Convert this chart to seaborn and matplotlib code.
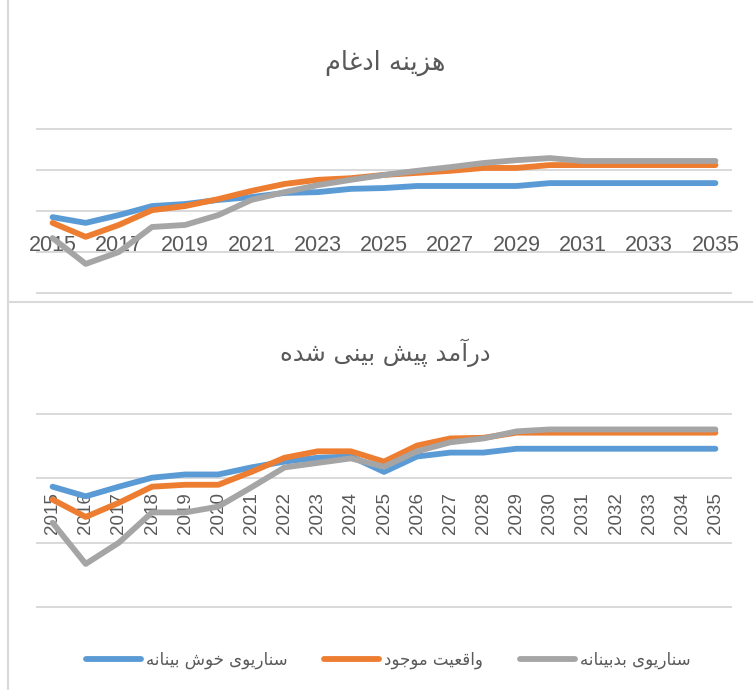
import matplotlib
matplotlib.use("Agg")
import matplotlib.pyplot as plt
import seaborn as sns
import pandas as pd
from matplotlib.lines import Line2D

# ---------------- data ----------------
years = list(range(2015, 2036))
series_names = ["سناریوی خوش بینانه", "واقعیت موجود", "سناریوی بدبینانه"]
title_top = "هزینه ادغام"
title_bottom = "درآمد پیش بینی شده"

cost_optimistic = [0.85, 0.71, 0.90, 1.12, 1.17, 1.27, 1.34, 1.44, 1.46, 1.54, 1.56,
                   1.61, 1.61, 1.61, 1.61, 1.68, 1.68, 1.68, 1.68, 1.68, 1.68]
cost_current = [0.71, 0.37, 0.66, 1.02, 1.12, 1.29, 1.49, 1.66, 1.76, 1.80, 1.88,
                1.93, 1.98, 2.05, 2.05, 2.12, 2.12, 2.12, 2.12, 2.12, 2.12]
cost_pessimistic = [0.34, -0.29, 0.00, 0.61, 0.66, 0.90, 1.27, 1.46, 1.63, 1.76, 1.88,
                    1.98, 2.07, 2.17, 2.24, 2.29, 2.22, 2.22, 2.22, 2.22, 2.22]

rev_optimistic = [0.87, 0.72, 0.87, 1.01, 1.06, 1.06, 1.17, 1.26, 1.32, 1.34, 1.10,
                  1.34, 1.40, 1.40, 1.46, 1.46, 1.46, 1.46, 1.46, 1.46, 1.46]
rev_current = [0.67, 0.40, 0.62, 0.87, 0.90, 0.90, 1.10, 1.32, 1.42, 1.42, 1.26,
               1.51, 1.62, 1.63, 1.71, 1.71, 1.71, 1.71, 1.71, 1.71, 1.71]
rev_pessimistic = [0.31, -0.33, 0.00, 0.47, 0.47, 0.56, 0.86, 1.17, 1.24, 1.31, 1.18,
                   1.42, 1.56, 1.62, 1.73, 1.76, 1.76, 1.76, 1.76, 1.76, 1.76]

colors = ["#5B9BD5", "#ED7D31", "#A5A5A5"]

# ---------- Persian shaping (presentation forms + RTL order) ----------
FORMS = {
    "ا": ("\uFE8D", "\uFE8E", None, None),
    "آ": ("\uFE81", "\uFE82", None, None),
    "ب": ("\uFE8F", "\uFE90", "\uFE91", "\uFE92"),
    "پ": ("\uFB56", "\uFB57", "\uFB58", "\uFB59"),
    "ت": ("\uFE95", "\uFE96", "\uFE97", "\uFE98"),
    "ج": ("\uFE9D", "\uFE9E", "\uFE9F", "\uFEA0"),
    "خ": ("\uFEA5", "\uFEA6", "\uFEA7", "\uFEA8"),
    "د": ("\uFEA9", "\uFEAA", None, None),
    "ر": ("\uFEAD", "\uFEAE", None, None),
    "ز": ("\uFEAF", "\uFEB0", None, None),
    "س": ("\uFEB1", "\uFEB2", "\uFEB3", "\uFEB4"),
    "ش": ("\uFEB5", "\uFEB6", "\uFEB7", "\uFEB8"),
    "ع": ("\uFEC9", "\uFECA", "\uFECB", "\uFECC"),
    "غ": ("\uFECD", "\uFECE", "\uFECF", "\uFED0"),
    "ق": ("\uFED5", "\uFED6", "\uFED7", "\uFED8"),
    "م": ("\uFEE1", "\uFEE2", "\uFEE3", "\uFEE4"),
    "ن": ("\uFEE5", "\uFEE6", "\uFEE7", "\uFEE8"),
    "ه": ("\uFEE9", "\uFEEA", "\uFEEB", "\uFEEC"),
    "و": ("\uFEED", "\uFEEE", None, None),
    "ی": ("\uFBFC", "\uFBFD", "\uFBFE", "\uFBFF"),
}


def shape(text):
    out = []
    n = len(text)
    for i, ch in enumerate(text):
        f = FORMS.get(ch)
        if f is None:
            out.append(ch)
            continue
        prev = text[i - 1] if i > 0 else None
        nxt = text[i + 1] if i + 1 < n else None
        join_prev = prev in FORMS and FORMS[prev][2] is not None
        join_next = f[2] is not None and nxt in FORMS
        if join_prev and join_next:
            out.append(f[3])
        elif join_prev:
            out.append(f[1])
        elif join_next:
            out.append(f[2])
        else:
            out.append(f[0])
    return "".join(reversed(out))


# ---------------- figure ----------------
sns.set_style("white")
plt.rcParams["font.family"] = ["Liberation Sans", "DejaVu Sans"]
AR = ["DejaVu Sans"]
TXT = "#595959"
GRID = "#D9D9D9"

W, H = 753, 690
fig = plt.figure(figsize=(W / 100, H / 100), dpi=100)
fig.patch.set_facecolor("white")


def px_axes(left, top, right, bottom):
    return fig.add_axes([left / W, 1 - bottom / H, (right - left) / W, (bottom - top) / H])


def make_panel(ax, vals, grid_vals, ylim, spine_pos, xticks, rot, fsize):
    df = pd.DataFrame({
        "year": years * 3,
        "value": vals[0] + vals[1] + vals[2],
        "series": [series_names[0]] * len(years) + [series_names[1]] * len(years)
        + [series_names[2]] * len(years),
    })
    sns.lineplot(data=df, x="year", y="value", hue="series", hue_order=series_names,
                 palette=dict(zip(series_names, colors)), ax=ax, legend=False,
                 linewidth=4.2, solid_capstyle="round", solid_joinstyle="round")
    ax.set_xlim(2014.5, 2035.5)
    ax.set_ylim(*ylim)
    ax.set_yticks(grid_vals)
    ax.yaxis.grid(True, color=GRID, linewidth=1.4)
    ax.xaxis.grid(False)
    ax.set_axisbelow(True)
    ax.tick_params(axis="y", left=False, labelleft=False)
    for s in ["left", "right", "top"]:
        ax.spines[s].set_visible(False)
    ax.spines["bottom"].set_position(("data", spine_pos))
    ax.spines["bottom"].set_visible(False)
    ax.set_xticks(xticks)
    ax.set_xticklabels([str(y) for y in xticks], rotation=rot, fontsize=fsize, color=TXT)
    ax.tick_params(axis="x", length=0, pad=0)
    ax.set_xlabel("")
    ax.set_ylabel("")
    ax.patch.set_alpha(0)


ax1 = px_axes(36, 129 - 2.05, 732, 293 + 2.05)
make_panel(ax1, [cost_optimistic, cost_current, cost_pessimistic], [-1, 0, 1, 2, 3],
           (-1.05, 3.05), 0.42, years[::2], 0, 15.5)

ax2 = px_axes(36, 414 - 1.93, 732, 607 + 1.93)
make_panel(ax2, [rev_optimistic, rev_current, rev_pessimistic], [-1, 0, 1, 2],
           (-1.03, 2.03), 0.78, years, 90, 13.5)

# titles
fig.text(385 / W, 1 - 63 / H, shape(title_top), ha="center", va="center",
         fontsize=18.5, color=TXT, family=AR)
fig.text(385 / W, 1 - 353 / H, shape(title_bottom), ha="center", va="center",
         fontsize=17.5, color=TXT, family=AR)

# chart-area borders
fig.add_artist(Line2D([7.5 / W, 7.5 / W], [0, 1], color=GRID, linewidth=1.5))
fig.add_artist(Line2D([7.5 / W, 1], [1 - 302 / H, 1 - 302 / H], color=GRID, linewidth=1.5))

# legend
handles = ax2.get_lines()[:3]
leg = fig.legend(handles, [shape(s) for s in series_names], loc="center",
                 bbox_to_anchor=(388 / W, 1 - 660 / H), ncol=3, frameon=False,
                 handlelength=3.3, handletextpad=0.3, columnspacing=2.2,
                 prop={"family": AR, "size": 12})
for t in leg.get_texts():
    t.set_color(TXT)

fig.savefig("out.png", dpi=100, facecolor="white")
